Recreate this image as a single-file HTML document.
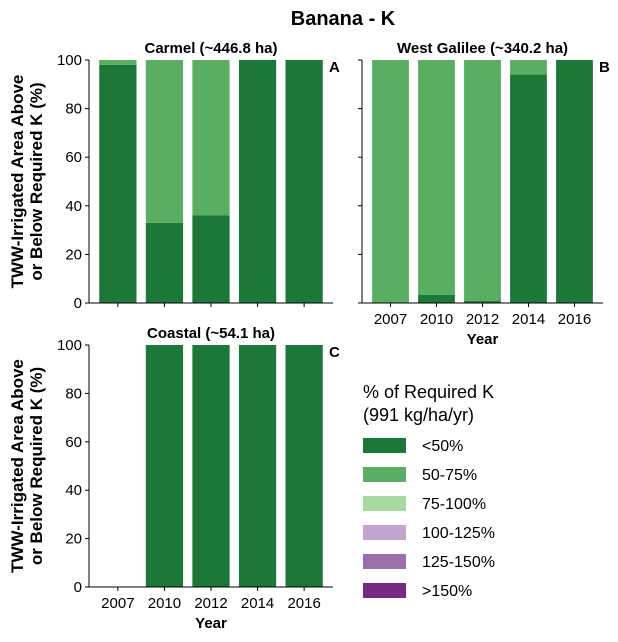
<!DOCTYPE html>
<html><head><meta charset="utf-8"><style>
body{margin:0;background:#fff;}
svg{display:block;font-family:"Liberation Sans","DejaVu Sans",sans-serif;}
</style></head><body>
<svg id="chart" width="618" height="642" viewBox="0 0 618 642"></svg>
<script>
const categories = ["2007","2010","2012","2014","2016"];
const seriesNames = ["<50%","50-75%","75-100%","100-125%","125-150%",">150%"];
const colors = ["#1b7837","#5aae61","#a6dba0","#c2a5cf","#9970ab","#762a83"];
const carmelLt50 = [98,33,36,100,100];
const carmel50to75 = [2,67,64,0,0];
const galileeLt50 = [0,3.3,0.8,94,100];
const galilee50to75 = [100,96.7,99.2,6,0];
const coastalLt50 = [0,100,100,100,100];
const coastal50to75 = [0,0,0,0,0];
const yTicks = [0,20,40,60,80,100];

const NS="http://www.w3.org/2000/svg";
const svg=document.getElementById('chart');
function mk(tag,attrs,parent){const e=document.createElementNS(NS,tag);for(const k in attrs)e.setAttribute(k,attrs[k]);(parent||svg).appendChild(e);return e;}

const t=mk('text',{x:343,y:25,'text-anchor':'middle','font-size':20,'font-weight':'bold'});
t.textContent='Banana - K';



function panel(name,letter,x0,x1,yTop,yBot,s1,s2,showY,showX,title){
  const g=mk('g',{});
  
  
  const xs=v=>x0+(v+0.62)/5.24*(x1-x0);
  const ys=v=>yBot-v/100*(yBot-yTop);
  const bw=0.8/5.24*(x1-x0);
  categories.forEach((c,i)=>{
    const cx=xs(i);
    if(s1[i]>0){const r=mk('rect',{x:cx-bw/2,y:ys(s1[i]),width:bw,height:ys(0)-ys(s1[i]),fill:colors[0]},g);
      }
    if(s2[i]>0){const r=mk('rect',{x:cx-bw/2,y:ys(s1[i]+s2[i]),width:bw,height:ys(s1[i])-ys(s1[i]+s2[i]),fill:colors[1]},g);
      }
    mk('line',{x1:cx,x2:cx,y1:yBot,y2:yBot+4,stroke:'#000'},g);
    if(showX){const tx=mk('text',{x:cx,y:yBot+21,'text-anchor':'middle','font-size':15},g);tx.textContent=c;
      }
  });
  yTicks.forEach(v=>{
    mk('line',{x1:x0-4,x2:x0,y1:ys(v),y2:ys(v),stroke:'#000'},g);
    if(showY){const tx=mk('text',{x:x0-7,y:ys(v)+5,'text-anchor':'end','font-size':15},g);tx.textContent=v;
      }
  });
  mk('line',{x1:x0,x2:x0,y1:yTop,y2:yBot,stroke:'#000'},g);
  mk('line',{x1:x0,x2:x1,y1:yBot,y2:yBot,stroke:'#000'},g);
  const pt=mk('text',{x:(x0+x1)/2,y:yTop-7,'text-anchor':'middle','font-size':15,'font-weight':'bold'},g);pt.textContent=title;
  
  const lt=mk('text',{x:x1-4,y:yTop+12,'font-size':15,'font-weight':'bold'},g);lt.textContent=letter;
  
  if(showX){const xt=mk('text',{x:(x0+x1)/2,y:yBot+41,'text-anchor':'middle','font-size':15,'font-weight':'bold'},g);xt.textContent='Year';
    }
  if(showY){const cy=(yTop+yBot)/2;
    const yt=mk('text',{transform:`translate(23,${cy}) rotate(-90)`,'text-anchor':'middle','font-size':17,'font-weight':'bold'},g);
    
    const a=mk('tspan',{x:0,y:0},yt);a.textContent='TWW-Irrigated Area Above';
    const b=mk('tspan',{x:0,y:19},yt);b.textContent='or Below Required K (%)';}
}
panel('panel-carmel','A',89,333,60,303,carmelLt50,carmel50to75,true,false,'Carmel (~446.8 ha)');
panel('panel-west-galilee','B',362,603,60,303,galileeLt50,galilee50to75,false,true,'West Galilee (~340.2 ha)');
panel('panel-coastal','C',89,333,345,587,coastalLt50,coastal50to75,true,true,'Coastal (~54.1 ha)');

const lg=mk('g',{});


const l1=mk('text',{x:363,y:398,'font-size':18},lg);l1.textContent='% of Required K';
const l2=mk('text',{x:363,y:421,'font-size':18},lg);l2.textContent='(991 kg/ha/yr)';
seriesNames.forEach((n,i)=>{
  const y=438+i*29;
  const r=mk('rect',{x:363,y:y,width:43,height:15,fill:colors[i]},lg);
  
  const tx=mk('text',{x:422,y:y+13,'font-size':16},lg);tx.textContent=n;
  
});
</script>
</body></html>
